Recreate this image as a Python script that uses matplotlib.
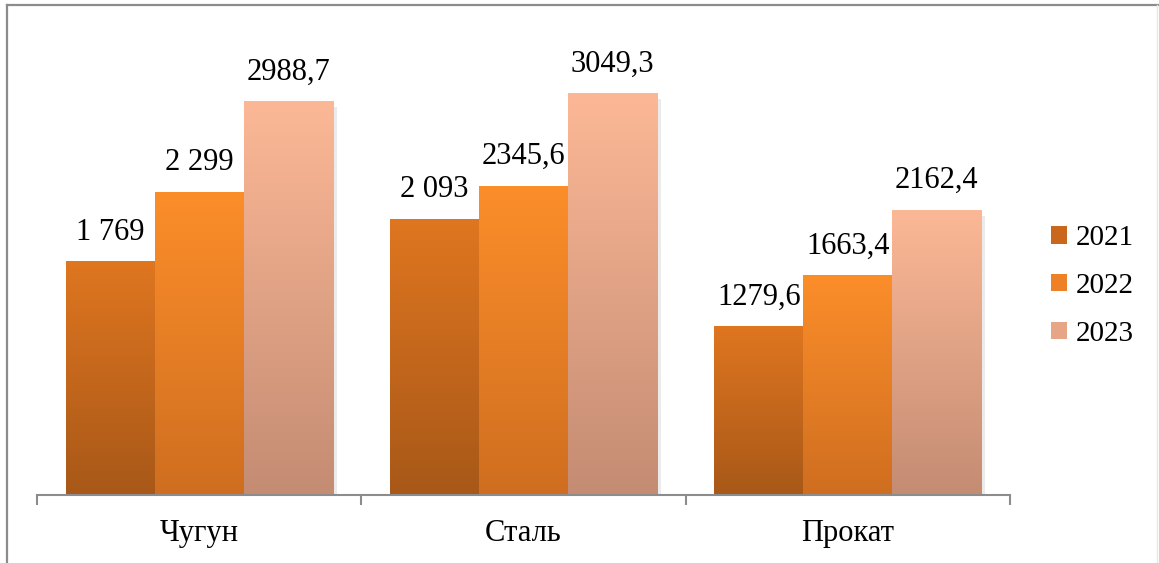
import matplotlib
matplotlib.use("Agg")
import matplotlib.pyplot as plt
import numpy as np
from matplotlib.patches import Rectangle, Patch
from matplotlib.colors import LinearSegmentedColormap
from matplotlib.lines import Line2D

categories = ["Чугун", "Сталь", "Прокат"]
years = ["2021", "2022", "2023"]
values = {
    "2021": [1769, 2093, 1279.6],
    "2022": [2299, 2345.6, 1663.4],
    "2023": [2988.7, 3049.3, 2162.4],
}
labels = {
    "2021": ["1 769", "2 093", "1279,6"],
    "2022": ["2 299", "2345,6", "1663,4"],
    "2023": ["2988,7", "3049,3", "2162,4"],
}
top_colors = {"2021": "#DF7620", "2022": "#FC8E2A", "2023": "#FCB896"}
bot_colors = {"2021": "#A85818", "2022": "#CF6E20", "2023": "#C48C73"}
mid_colors = {"2021": "#C9681D", "2022": "#EE8026", "2023": "#E6A584"}

plt.rcParams['font.family'] = 'serif'
plt.rcParams['font.serif'] = ['Liberation Serif', 'DejaVu Serif']

W, H = 1159, 563
fig = plt.figure(figsize=(W / 100, H / 100), dpi=100)
ax = fig.add_axes([37 / W, 68 / H, 973 / W, 461 / H])
ax.set_xlim(-0.5, 2.5)
ax.set_ylim(0, 3500)

bw = 89 / 324
px = 1 / 324  # one pixel in data x units
py = 3500 / 461
for j, yr in enumerate(years):
    cmap = LinearSegmentedColormap.from_list(yr, [bot_colors[yr], top_colors[yr]])
    for i, v in enumerate(values[yr]):
        x0 = i + (j - 1) * bw - bw / 2
        # shadow
        ax.add_patch(Rectangle((x0 + 4 * px, 0), bw, v - 6 * py,
                               facecolor="#EBEBEB", edgecolor="none", zorder=1))
        grad = np.linspace(0, 1, 256).reshape(-1, 1)
        ax.imshow(grad, cmap=cmap, origin="lower", aspect="auto",
                  extent=(x0, x0 + bw, 0, v), zorder=2, interpolation="bilinear")
        ax.text(x0 + bw / 2, v + 15 * py, labels[yr][i], ha="center", va="bottom",
                fontsize=22, color="#000000", zorder=3)

ax.set_xlim(-0.5, 2.5)
ax.set_ylim(0, 3500)
for s in ["top", "right", "left"]:
    ax.spines[s].set_visible(False)
ax.spines["bottom"].set_color("#8C8C8C")
ax.spines["bottom"].set_linewidth(1.5)
ax.set_yticks([])
ax.set_xticks([-0.5, 0.5, 1.5, 2.5])
ax.set_xticklabels([])
ax.tick_params(axis="x", which="major", length=7, width=1.5, color="#8C8C8C", direction="out")
ax.set_xticks([0, 1, 2], minor=True)
ax.set_xticklabels(categories, minor=True, fontsize=22)
ax.tick_params(axis="x", which="minor", length=0, pad=17)

handles = [Patch(facecolor=mid_colors[y], edgecolor="none") for y in years]
leg = fig.legend(handles, years, loc="center left", bbox_to_anchor=(1036 / W, 1 - 286 / H),
                 frameon=False, fontsize=21, handlelength=0.55, handleheight=0.55,
                 handletextpad=0.3, labelspacing=0.75, borderpad=0)

# outer border
fig.add_artist(Line2D([7 / W, 7 / W], [0, 1 - 5 / H], transform=fig.transFigure,
                      color="#8C8C8C", lw=1.6))
fig.add_artist(Line2D([7 / W, 1], [1 - 5 / H, 1 - 5 / H], transform=fig.transFigure,
                      color="#8C8C8C", lw=1.6))
fig.add_artist(Line2D([1157 / W, 1157 / W], [0, 1 - 5 / H], transform=fig.transFigure,
                      color="#E6E6E6", lw=1))

fig.savefig("out.png", dpi=100)
